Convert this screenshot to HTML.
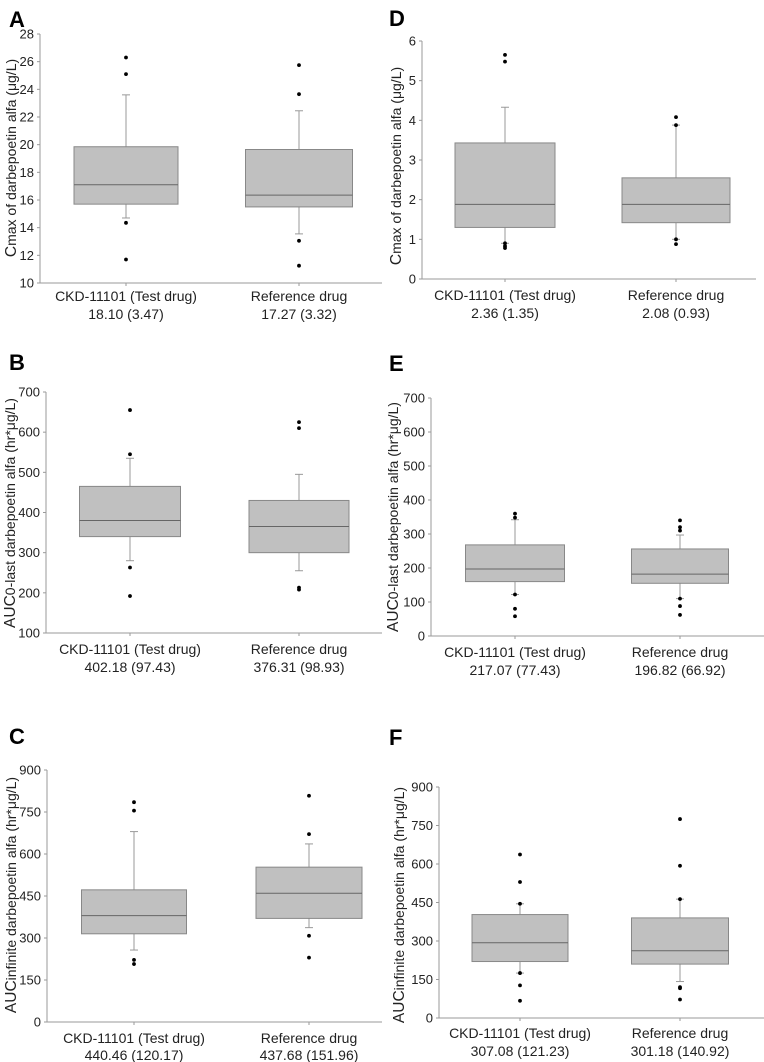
<!DOCTYPE html>
<html><head><meta charset="utf-8">
<style>
html,body{margin:0;padding:0;background:#fff;}
svg{display:block;font-family:"Liberation Sans",Arial,sans-serif;}
</style></head>
<body>
<svg id="fig" width="764" height="1062" viewBox="0 0 764 1062" xmlns="http://www.w3.org/2000/svg"></svg>
<script>
const panelLetters = ["A","B","C","D","E","F"];
const categories = ["CKD-11101 (Test drug)","Reference drug"];
const meanLabels = [
  ["18.10 (3.47)","17.27 (3.32)"],
  ["402.18 (97.43)","376.31 (98.93)"],
  ["440.46 (120.17)","437.68 (151.96)"],
  ["2.36 (1.35)","2.08 (0.93)"],
  ["217.07 (77.43)","196.82 (66.92)"],
  ["307.08 (121.23)","301.18 (140.92)"]
];
const yTicks = [
  [10,12,14,16,18,20,22,24,26,28],
  [100,200,300,400,500,600,700],
  [0,150,300,450,600,750,900],
  [0,1,2,3,4,5,6],
  [0,100,200,300,400,500,600,700],
  [0,150,300,450,600,750,900]
];
// per panel: [test, reference] each [q1, median, q3, whiskerLow, whiskerHigh]
const boxStats = [
  [[15.7,17.1,19.85,14.7,23.6],[15.5,16.35,19.65,13.55,22.45]],
  [[340,380,465,280,535],[300,365,430,255,495]],
  [[315,380,472,257,680],[370,460,553,337,636]],
  [[1.3,1.88,3.43,0.9,4.33],[1.42,1.88,2.55,1.0,3.88]],
  [[160,197,268,122,342],[155,182,256,110,297]],
  [[220,293,403,175,445],[210,262,390,142,463]]
];
const outliers = [
  [[26.3,25.1,14.35,11.7],[25.75,23.65,13.05,11.25]],
  [[655,545,263,192],[625,610,213,208]],
  [[785,755,222,207],[808,671,308,230]],
  [[5.65,5.48,0.9,0.83,0.78],[4.08,3.88,1.0,0.88]],
  [[360,348,122,80,58],[340,320,310,110,88,62]],
  [[637,530,445,175,127,67],[775,593,463,120,116,72]]
];
const titleMain = ["max of darbepoetin alfa (\u03bcg/L)","0-last darbepoetin alfa (hr*\u03bcg/L)","infinite darbepoetin alfa (hr*\u03bcg/L)",
                   "max of darbepoetin alfa (\u03bcg/L)","0-last darbepoetin alfa (hr*\u03bcg/L)","infinite darbepoetin alfa (hr*\u03bcg/L)"];
const titlePrefix = ["C","AUC","AUC","C","AUC","AUC"];

// layout (not data)
const layout = [
  {ax:40,top:34,bot:283,right:382,c:[126,299],bw:[104,107],lab:[301,319],letter:[9,27],title:[11,158]},
  {ax:46,top:392,bot:633,right:382,c:[130,299],bw:[101,100],lab:[654,672],letter:[9,370],title:[10,513]},
  {ax:47,top:770,bot:1022,right:382,c:[134,309],bw:[105,106],lab:[1043,1060],letter:[9,744],title:[11,895]},
  {ax:422,top:41,bot:279,right:756,c:[505,676],bw:[100,108],lab:[300,318],letter:[389,26],title:[396,166]},
  {ax:431,top:398,bot:636,right:764,c:[515,680],bw:[99,97],lab:[657,675],letter:[389,371],title:[393,517]},
  {ax:439,top:787,bot:1018,right:764,c:[520,680],bw:[96,97],lab:[1038,1056],letter:[389,745],title:[399,905]}
];
const NS="http://www.w3.org/2000/svg";
const svg=document.getElementById('fig');
function mk(tag,attrs,parent){const e=document.createElementNS(NS,tag);for(const k in attrs)e.setAttribute(k,attrs[k]);(parent||svg).appendChild(e);return e;}

panelLetters.forEach((L,p)=>{
  const g=mk('g',{});
  
  
  const lo=layout[p], ticks=yTicks[p];
  const ymin=ticks[0], ymax=ticks[ticks.length-1];
  const y=v=>lo.bot-(v-ymin)/(ymax-ymin)*(lo.bot-lo.top);
  const let_=mk('text',{x:lo.letter[0],y:lo.letter[1],'font-size':22,'font-weight':'bold',fill:'#000'},g);
  let_.textContent=L;
  
  
  const ya=mk('line',{x1:lo.ax,y1:lo.top,x2:lo.ax,y2:lo.bot,stroke:'#9a9a9a','stroke-width':1},g);
  
  
  const xa=mk('line',{x1:lo.ax,y1:lo.bot,x2:lo.right,y2:lo.bot,stroke:'#9a9a9a','stroke-width':1},g);
  
  
  ticks.forEach(t=>{
    const yy=y(t);
    mk('line',{x1:lo.ax-3,y1:yy,x2:lo.ax,y2:yy,stroke:'#9a9a9a'},g);
    const tx=mk('text',{x:lo.ax-6,y:yy+4.5,'font-size':13,'text-anchor':'end',fill:'#222'},g);
    tx.textContent=t;
    
    
  });
  const tt=mk('text',{transform:`translate(${lo.title[0]+5},${lo.title[1]}) rotate(-90)`,'font-size':14,'text-anchor':'middle',fill:'#222'},g);
  
  
  const t1=mk('tspan',{'font-size':15.5},tt); t1.textContent=titlePrefix[p];
  const t2=mk('tspan',{},tt); t2.textContent=titleMain[p];
  categories.forEach((cat,i)=>{
    const cx=lo.c[i], bw=lo.bw[i], s=boxStats[p][i];
    mk('line',{x1:cx,y1:lo.bot,x2:cx,y2:lo.bot+3,stroke:'#9a9a9a'},g);
    const wh=mk('line',{x1:cx,y1:y(s[4]),x2:cx,y2:y(s[2]),stroke:'#999'},g);
    
    
    const wl=mk('line',{x1:cx,y1:y(s[0]),x2:cx,y2:y(s[3]),stroke:'#999'},g);
    
    
    mk('line',{x1:cx-4,y1:y(s[4]),x2:cx+4,y2:y(s[4]),stroke:'#999'},g);
    mk('line',{x1:cx-4,y1:y(s[3]),x2:cx+4,y2:y(s[3]),stroke:'#999'},g);
    const box=mk('rect',{x:cx-bw/2,y:y(s[2]),width:bw,height:y(s[0])-y(s[2]),fill:'#c0c0c0',stroke:'#888','stroke-width':1},g);
    
    
    const md=mk('line',{x1:cx-bw/2,y1:y(s[1]),x2:cx+bw/2,y2:y(s[1]),stroke:'#666','stroke-width':1},g);
    
    
    outliers[p][i].forEach(v=>{
      const d=mk('circle',{cx:cx,cy:y(v),r:1.9,fill:'#000'},g);
      
      
    });
    const l1=mk('text',{x:cx,y:lo.lab[0],'font-size':14,'text-anchor':'middle',fill:'#222'},g);
    l1.textContent=cat;
    
    
    const l2=mk('text',{x:cx,y:lo.lab[1],'font-size':14,'text-anchor':'middle',fill:'#222'},g);
    l2.textContent=meanLabels[p][i];
    
    
  });
});
</script>
</body></html>
